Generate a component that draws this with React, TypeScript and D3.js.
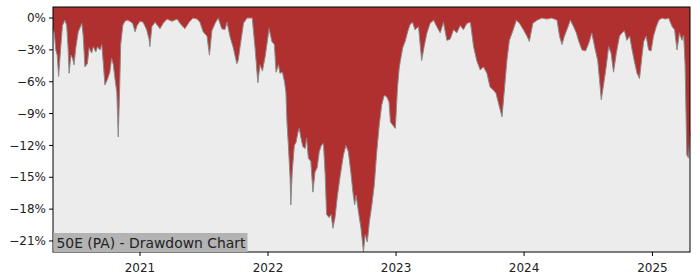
import React from "react";
import * as d3 from "d3";

const dates: string[] = [
  "2020-04-28","2020-05-02","2020-05-06","2020-05-10","2020-05-14","2020-05-20","2020-05-25","2020-06-01","2020-06-06","2020-06-10",
  "2020-06-13","2020-06-18","2020-06-23","2020-06-27","2020-07-02","2020-07-09","2020-07-19","2020-07-23","2020-07-28","2020-08-04",
  "2020-08-09","2020-08-16","2020-08-21","2020-08-28","2020-09-02","2020-09-09","2020-09-14","2020-09-18","2020-09-23","2020-09-30",
  "2020-10-07","2020-10-12","2020-10-17","2020-10-22","2020-10-27","2020-10-31","2020-11-04","2020-11-07","2020-11-13","2020-11-19",
  "2020-11-26","2020-12-03","2020-12-11","2020-12-18","2020-12-24","2021-01-01","2021-01-10","2021-01-20","2021-01-27","2021-01-29",
  "2021-02-04","2021-02-13","2021-02-27","2021-03-08","2021-03-19","2021-04-02","2021-04-17","2021-04-25","2021-05-09","2021-05-21",
  "2021-06-01","2021-06-13","2021-06-21","2021-06-30","2021-07-11","2021-07-18","2021-07-25","2021-08-03","2021-08-12","2021-08-22",
  "2021-08-31","2021-09-06","2021-09-15","2021-09-24","2021-10-04","2021-10-08","2021-10-13","2021-10-23","2021-11-02","2021-11-17",
  "2021-11-25","2021-12-03","2021-12-09","2021-12-16","2021-12-24","2022-01-04","2022-01-12","2022-01-19","2022-01-24","2022-01-31",
  "2022-02-04","2022-02-11","2022-02-17","2022-02-21","2022-02-24","2022-02-28","2022-03-05","2022-03-07","2022-03-11","2022-03-17",
  "2022-03-22","2022-03-27","2022-03-31","2022-04-05","2022-04-10","2022-04-17","2022-04-21","2022-04-26","2022-05-03","2022-05-09",
  "2022-05-15","2022-05-21","2022-05-27","2022-06-02","2022-06-08","2022-06-13","2022-06-17","2022-06-24","2022-06-30","2022-07-05",
  "2022-07-11","2022-07-18","2022-07-26","2022-08-04","2022-08-11","2022-08-18","2022-08-25","2022-08-31","2022-09-05","2022-09-09",
  "2022-09-16","2022-09-23","2022-09-30","2022-10-05","2022-10-11","2022-10-17","2022-10-24","2022-10-31","2022-11-07","2022-11-14",
  "2022-11-21","2022-11-28","2022-12-05","2022-12-12","2022-12-16","2022-12-23","2022-12-30","2023-01-05","2023-01-10","2023-01-13",
  "2023-01-20","2023-01-27","2023-02-03","2023-02-10","2023-02-17","2023-02-24","2023-03-06","2023-03-15","2023-03-22","2023-03-30",
  "2023-04-08","2023-04-18","2023-04-27","2023-05-07","2023-05-16","2023-05-26","2023-06-04","2023-06-14","2023-06-23","2023-07-03",
  "2023-07-12","2023-07-22","2023-08-01","2023-08-10","2023-08-19","2023-08-29","2023-09-07","2023-09-17","2023-09-26","2023-10-06",
  "2023-10-13","2023-10-23","2023-10-30","2023-11-05","2023-11-13","2023-11-20","2023-11-30","2023-12-10","2023-12-19","2023-12-30",
  "2024-01-09","2024-01-16","2024-01-26","2024-02-07","2024-02-21","2024-03-06","2024-03-20","2024-04-04","2024-04-11","2024-04-18",
  "2024-04-25","2024-05-02","2024-05-12","2024-05-21","2024-05-29","2024-06-04","2024-06-14","2024-06-24","2024-07-03","2024-07-12",
  "2024-07-22","2024-07-29","2024-08-03","2024-08-08","2024-08-15","2024-08-22","2024-08-29","2024-09-05","2024-09-12","2024-09-20",
  "2024-09-29","2024-10-06","2024-10-13","2024-10-20","2024-10-28","2024-11-04","2024-11-10","2024-11-18","2024-11-25","2024-12-02",
  "2024-12-07","2024-12-14","2024-12-21","2024-12-28","2025-01-04","2025-01-12","2025-01-19","2025-01-28","2025-02-07","2025-02-16",
  "2025-02-26","2025-03-05","2025-03-12","2025-03-19","2025-03-26","2025-03-31","2025-04-04","2025-04-09","2025-04-14","2025-04-18"
];

const drawdown: number[] = [
  -1.0,-1.5,-3.0,-3.5,-5.5,-2.8,-0.7,-0.2,-0.7,-2.8,
  -5.2,-3.5,-3.8,-4.4,-2.8,-1.3,-0.5,-1.6,-4.6,-4.3,
  -2.8,-3.3,-2.7,-3.2,-2.7,-3.0,-2.5,-4.1,-6.3,-5.8,
  -5.1,-3.8,-4.4,-5.8,-7.0,-11.2,-6.6,-2.5,-0.7,-0.3,
  -0.2,-0.3,-0.5,-1.3,-0.7,-0.3,-0.4,-1.1,-2.0,-2.7,
  -0.8,-0.4,-1.0,-0.5,-0.1,-0.3,-0.1,-0.5,-1.0,-0.4,
  0,-0.1,-0.4,-1.3,-1.7,-3.5,-1.2,-0.5,0,-1.0,
  -1.1,-0.4,-1.8,-2.8,-4.3,-4.0,-2.8,-0.5,0,0,
  -2.8,-6.1,-4.4,-5.0,-3.6,-1.0,-2.2,-2.5,-5.1,-4.4,
  -5.2,-5.1,-6.0,-7.0,-9.8,-12.0,-15.1,-17.6,-14.5,-12.0,
  -11.7,-10.8,-10.4,-11.3,-12.1,-12.3,-11.3,-13.2,-13.5,-16.4,
  -14.5,-14.1,-12.6,-12.0,-11.8,-14.8,-18.5,-18.8,-18.5,-19.8,
  -18.8,-16.7,-14.8,-12.9,-12.0,-12.6,-14.5,-16.4,-17.6,-16.7,
  -18.3,-19.8,-22.0,-20.4,-21.1,-19.2,-17.6,-15.7,-12.6,-10.1,
  -8.2,-7.3,-7.4,-7.9,-9.8,-10.1,-10.4,-6.6,-4.7,-4.1,
  -2.8,-2.2,-1.3,-0.6,-0.4,-1.1,-0.8,-4.0,-2.7,-1.4,
  -0.5,-0.2,-0.8,-1.4,-0.4,-2.1,-2.0,-1.1,-1.4,-0.7,
  -1.1,-0.5,-0.4,-2.7,-4.0,-4.9,-4.6,-5.2,-6.5,-6.8,
  -7.1,-8.4,-9.3,-7.1,-4.0,-2.1,-1.2,-0.2,-0.5,-1.1,
  -1.7,-2.2,-0.5,-0.2,0,-0.1,0,-0.2,-1.7,-2.5,
  -1.7,-1.1,-0.2,-0.8,-1.4,-2.1,-3.0,-3.1,-2.4,-1.4,
  -3.0,-4.0,-5.8,-7.7,-6.2,-4.6,-2.7,-3.3,-5.1,-3.3,
  -1.7,-1.4,-1.2,-2.1,-1.7,-3.0,-4.0,-5.2,-5.7,-3.6,
  -2.2,-1.7,-3.0,-3.1,-1.7,-0.8,-0.2,0,-0.1,0,
  -0.8,-1.1,-3.0,-1.4,-2.1,-1.6,-4.4,-12.9,-13.2,-10.8
];

const yTicks: number[] = [0, -3, -6, -9, -12, -15, -18, -21];
const xTickYears: number[] = [2021, 2022, 2023, 2024, 2025];
const title = "50E (PA) - Drawdown Chart";

const W = 700, H = 280;
const M = { left: 53, right: 690, top: 7, bottom: 252 };

export default function App() {
  const parse = d3.timeParse("%Y-%m-%d");
  const data = dates.map((d, i) => ({ date: parse(d) as Date, v: drawdown[i] }));
  const x = d3.scaleTime()
    .domain(d3.extent(data, (d) => d.date) as [Date, Date])
    .range([M.left, M.right]);
  const y = d3.scaleLinear().domain([-22.04, 1.04]).range([M.bottom, M.top]);

  const area = d3.area<{ date: Date; v: number }>()
    .x((d) => x(d.date))
    .y0(M.top)
    .y1((d) => y(d.v));
  const line = d3.line<{ date: Date; v: number }>()
    .x((d) => x(d.date))
    .y((d) => y(d.v));

  const font = "DejaVu Sans, sans-serif";
  const minus = (n: number) => (n < 0 ? "\u2212" + Math.abs(n) : String(n)) + "%";

  return (
    <svg width={W} height={H} style={{ position: "absolute", left: 0, top: 0, background: "#fff" }}>
      <rect x={M.left} y={M.top} width={M.right - M.left} height={M.bottom - M.top} fill="#ececec" />
      <path d={area(data) || ""} fill="#b03030" />
      <path d={line(data) || ""} fill="none" stroke="#8a8a8a" strokeWidth={1} />
      <rect x={M.left} y={M.top} width={M.right - M.left} height={M.bottom - M.top} fill="none" stroke="#000" strokeWidth={1} />
      {yTicks.map((t) => (
        <g key={t}>
          <line x1={M.left - 4} x2={M.left} y1={y(t)} y2={y(t)} stroke="#000" />
          <text x={M.left - 7} y={y(t)} dy="0.35em" textAnchor="end" fontFamily={font} fontSize={12} fill="#222">
            {minus(t)}
          </text>
        </g>
      ))}
      {xTickYears.map((yr) => {
        const px = x(new Date(yr, 0, 1));
        return (
          <g key={yr}>
            <line x1={px} x2={px} y1={M.bottom} y2={M.bottom + 4} stroke="#000" />
            <text x={px} y={M.bottom + 20} textAnchor="middle" fontFamily={font} fontSize={12} fill="#222">
              {yr}
            </text>
          </g>
        );
      })}
      <rect x={M.left + 0.5} y={233} width={194} height={M.bottom - 233} fill="#b3b3b3" />
      <text x={M.left + 3.5} y={247.5} fontFamily={font} fontSize={13.9} fill="#222">{title}</text>
    </svg>
  );
}
